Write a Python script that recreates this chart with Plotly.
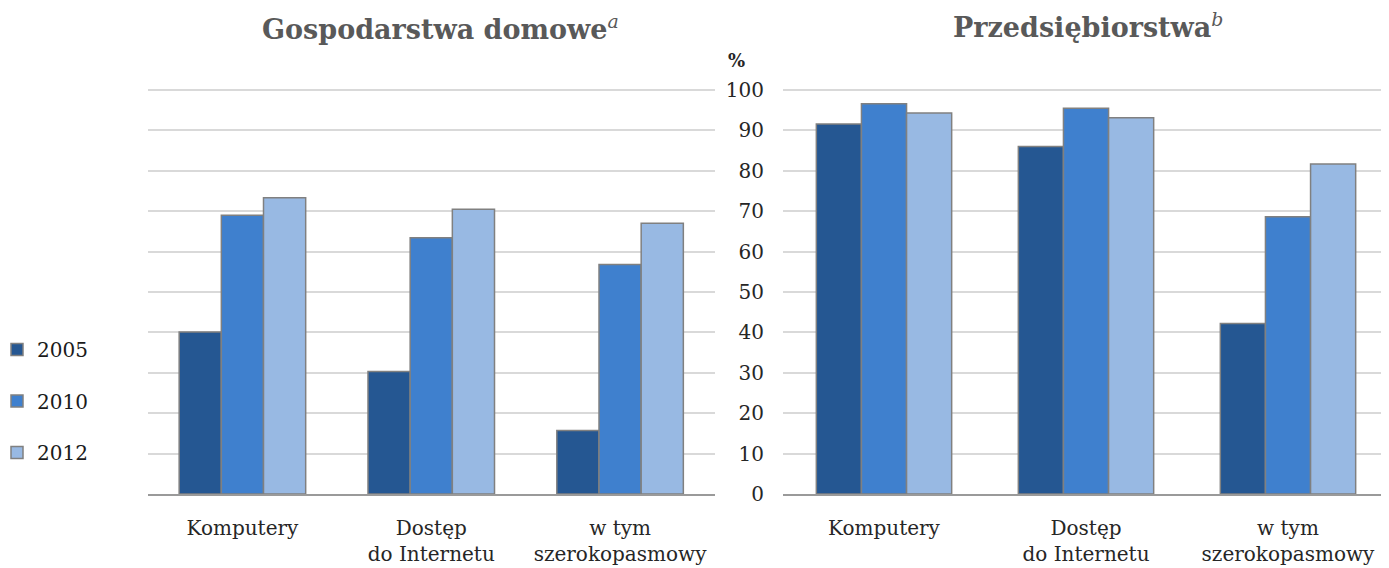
import plotly.graph_objects as go

categories = ["Komputery", "Dostęp<br>do Internetu", "w tym<br>szerokopasmowy"]
years = ["2005", "2010", "2012"]
colors = ["#255792", "#3F80CE", "#98B9E3"]

households_2005 = [40.1, 30.3, 15.7]
households_2010 = [69.0, 63.4, 56.8]
households_2012 = [73.3, 70.5, 67.0]

enterprises_2005 = [91.6, 86.0, 42.2]
enterprises_2010 = [96.6, 95.5, 68.6]
enterprises_2012 = [94.3, 93.1, 81.7]

yticks = [0, 10, 20, 30, 40, 50, 60, 70, 80, 90, 100]

# page body adds an 8px offset; figure sized so the whole thing fits the window
OFF = 8
W, H = 1389 - OFF, 568 - OFF
FONT = "DejaVu Serif"


def fx(X):
    return (X - OFF) / W


def fy(Y):
    return 1 - (Y - OFF) / H


fig = go.Figure()
hh = [households_2005, households_2010, households_2012]
en = [enterprises_2005, enterprises_2010, enterprises_2012]
for i, y in enumerate(years):
    fig.add_trace(go.Bar(x=categories, y=hh[i], name=y, legendgroup=y,
                         marker=dict(color=colors[i], line=dict(color="#808080", width=1.5)),
                         xaxis="x", yaxis="y", showlegend=True))
for i, y in enumerate(years):
    fig.add_trace(go.Bar(x=categories, y=en[i], name=y, legendgroup=y,
                         marker=dict(color=colors[i], line=dict(color="#808080", width=1.5)),
                         xaxis="x2", yaxis="y2", showlegend=False))

ytop = 90 - 0.4 * 4.04
ydom = [fy(494), fy(ytop)]
axis_font = dict(family=FONT, size=20, color="#262626")

fig.update_layout(
    width=W, height=H,
    margin=dict(l=0, r=0, t=0, b=0, autoexpand=False),
    paper_bgcolor="white", plot_bgcolor="white",
    barmode="group", bargap=0.33, bargroupgap=0,
    font=dict(family=FONT, size=20, color="#262626"),
    xaxis=dict(domain=[fx(148), fx(714.5)], showline=True, linecolor="#9a9a9a", linewidth=1.5,
               showgrid=False, ticks="", tickfont=axis_font, ticklabelstandoff=15,
               automargin=False),
    yaxis=dict(domain=ydom, range=[0, 100.4], tickvals=yticks, showticklabels=False,
               showgrid=True, gridcolor="#d9d9d9", gridwidth=1.5, zeroline=False, ticks="",
               automargin=False),
    xaxis2=dict(domain=[fx(783), 1.0], anchor="y2", showline=True, linecolor="#9a9a9a", linewidth=1.5,
                showgrid=False, ticks="", tickfont=axis_font, ticklabelstandoff=15,
                automargin=False),
    yaxis2=dict(domain=ydom, anchor="x2", range=[0, 100.4], tickvals=yticks,
                showgrid=True, gridcolor="#d9d9d9", gridwidth=1.5, zeroline=False, ticks="",
                tickfont=axis_font, ticklabelstandoff=18, automargin=False),
    legend=dict(x=fx(-3), y=fy(330), xanchor="left", yanchor="top",
                font=dict(family=FONT, size=20, color="#1a1a1a"),
                tracegroupgap=22.5, bgcolor="rgba(0,0,0,0)"),
    annotations=[
        dict(text="<b>Gospodarstwa domowe</b><sup><i>a</i></sup>", x=fx(440), y=fy(28),
             xref="paper", yref="paper", showarrow=False, xanchor="center", yanchor="middle",
             font=dict(family=FONT, size=27, color="#595959")),
        dict(text="<b>Przedsiębiorstwa</b><sup><i>b</i></sup>", x=fx(1088), y=fy(25),
             xref="paper", yref="paper", showarrow=False, xanchor="center", yanchor="middle",
             font=dict(family=FONT, size=27, color="#595959")),
        dict(text="<b>%</b>", x=fx(737), y=fy(60), xref="paper", yref="paper",
             showarrow=False, xanchor="center", yanchor="middle",
             font=dict(family=FONT, size=18, color="#262626")),
    ],
)

fig.write_html("out.html")
